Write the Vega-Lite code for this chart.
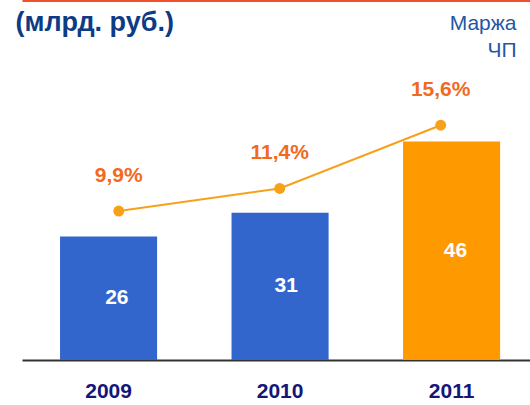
{
  "$schema": "https://vega.github.io/schema/vega-lite/v6.json",
  "width": 508,
  "height": 360,
  "autosize": "none",
  "padding": {"left": 22, "top": 0, "right": 0, "bottom": 45},
  "background": "white",
  "config": {
    "view": {"stroke": null},
    "font": "Liberation Sans",
    "locale": {"number": {"decimal": ",", "thousands": " ", "grouping": [3], "currency": ["", ""]}}
  },
  "data": {
    "values": [
      {"year": "2009", "profit": 26, "margin": 0.099},
      {"year": "2010", "profit": 31, "margin": 0.114},
      {"year": "2011", "profit": 46, "margin": 0.156}
    ]
  },
  "layer": [
    {
      "mark": {"type": "bar"},
      "encoding": {
        "x": {
          "field": "year", "type": "ordinal",
          "scale": {"paddingInner": 0.434, "paddingOuter": 0.198, "align": 0.56},
          "axis": {
            "orient": "bottom", "title": null, "ticks": false,
            "domainColor": "#333333", "domainWidth": 2,
            "labelAngle": 0, "labelFontSize": 21, "labelFontWeight": "bold",
            "labelColor": "#15157A", "labelPadding": 20, "labelFont": "Liberation Sans"
          }
        },
        "y": {
          "field": "profit", "type": "quantitative",
          "scale": {"domain": [0, 75.8], "nice": false},
          "axis": {
            "orient": "left", "grid": false, "labels": false, "ticks": false, "domain": false,
            "title": "(млрд. руб.)", "titleAngle": 0, "titleAlign": "left", "titleBaseline": "top",
            "titleX": -7, "titleY": 9, "titleFontSize": 27, "titleFontWeight": "bold",
            "titleColor": "#0D3C84", "titleFont": "Liberation Sans"
          }
        },
        "color": {
          "field": "year", "type": "nominal",
          "scale": {"domain": ["2009", "2010", "2011"], "range": ["#3366CC", "#3366CC", "#FF9900"]},
          "legend": null
        }
      }
    },
    {
      "mark": {"type": "text", "fontSize": 21, "fontWeight": "bold", "color": "white", "baseline": "middle", "align": "center"},
      "encoding": {
        "x": {
          "field": "year", "type": "ordinal",
          "scale": {"paddingInner": 0.434, "paddingOuter": 0.198, "align": 0.56},
          "axis": null
        },
        "y": {
          "field": "profit", "type": "quantitative",
          "scale": {"domain": [0, 151.6], "nice": false},
          "axis": null
        },
        "text": {"field": "profit", "type": "quantitative"}
      }
    },
    {
      "encoding": {
        "x": {
          "field": "year", "type": "ordinal",
          "scale": {"type": "point", "padding": 0.578, "align": 0.52},
          "axis": {
            "orient": "top", "title": null, "labels": false, "ticks": false,
            "domainColor": "#F0502A", "domainWidth": 3
          }
        },
        "y": {
          "field": "margin", "type": "quantitative",
          "scale": {"domain": [0, 0.2392], "nice": false},
          "axis": {
            "orient": "right", "grid": false, "labels": false, "ticks": false, "domain": false,
            "title": ["Маржа", "ЧП"], "titleAngle": 0, "titleAlign": "right", "titleBaseline": "top",
            "titleX": -14, "titleY": 12, "titleFontSize": 21, "titleFontWeight": "normal",
            "titleColor": "#2456A6", "titleLineHeight": 27, "titleFont": "Liberation Sans"
          }
        }
      },
      "layer": [
        {"mark": {"type": "line", "color": "#F7A11B", "strokeWidth": 2}},
        {"mark": {"type": "point", "filled": true, "opacity": 1, "color": "#F7A11B", "size": 120}},
        {
          "mark": {"type": "text", "fontSize": 21, "fontWeight": "bold", "color": "#F26A1E", "baseline": "middle", "align": "center", "dy": -35},
          "encoding": {"text": {"field": "margin", "type": "quantitative", "format": ".1%"}}
        }
      ]
    }
  ],
  "resolve": {"scale": {"x": "independent", "y": "independent", "color": "independent"}}
}
